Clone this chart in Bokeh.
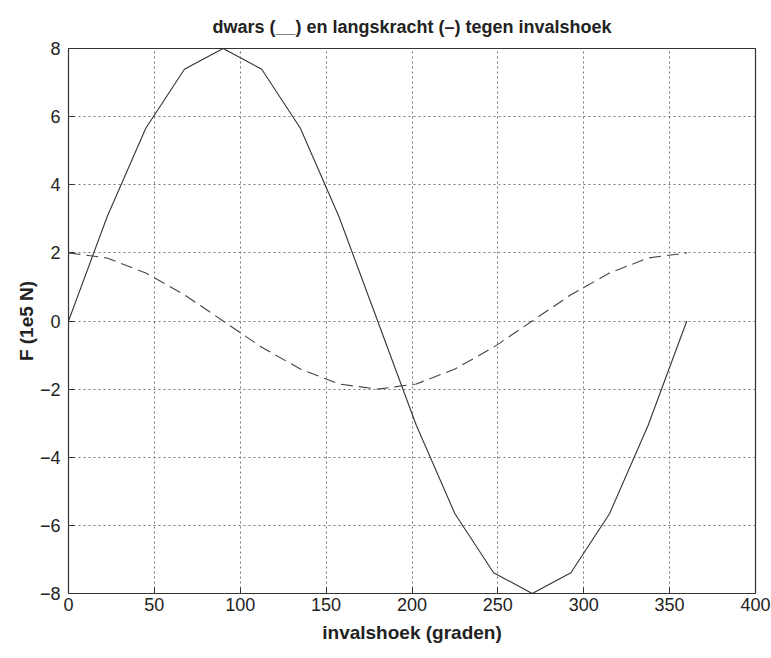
from bokeh.plotting import figure
from bokeh.models import FixedTicker, Range1d
from bokeh.embed import file_html
from bokeh.resources import INLINE

# invalshoek (graden)
angles = [0, 22.5, 45, 67.5, 90, 112.5, 135, 157.5, 180, 202.5, 225, 247.5,
          270, 292.5, 315, 337.5, 360]
# dwarskracht (solid)
dwars = [0, 3.06, 5.66, 7.39, 8.0, 7.39, 5.66, 3.06, 0, -3.06, -5.66, -7.39,
         -8.0, -7.39, -5.66, -3.06, 0]
# langskracht (dashed)
langs = [2.0, 1.85, 1.41, 0.77, 0, -0.77, -1.41, -1.85, -2.0, -1.85, -1.41,
         -0.77, 0, 0.77, 1.41, 1.85, 2.0]

x_ticks = [0, 50, 100, 150, 200, 250, 300, 350, 400]
y_ticks = [-8, -6, -4, -2, 0, 2, 4, 6, 8]

FONT = "Liberation Sans"

p = figure(width=771, height=658, output_backend="svg", toolbar_location=None,
           x_range=Range1d(0, 400), y_range=Range1d(-8, 8),
           min_border_left=68, min_border_right=16, min_border_top=48,
           min_border_bottom=65,
           title="dwars (__) en langskracht (\u2013) tegen invalshoek")

p.title.align = "center"
p.title.vertical_align = "top"
p.title.text_font = FONT
p.title.text_font_size = "18px"
p.title.text_font_style = "bold"
p.title.text_color = "#222222"
p.title.standoff = 20

p.outline_line_color = "#333333"
p.outline_line_width = 1.2
p.background_fill_color = "white"
p.border_fill_color = "white"

p.xaxis.ticker = FixedTicker(ticks=x_ticks)
p.yaxis.ticker = FixedTicker(ticks=y_ticks)
for ax in (p.xaxis, p.yaxis):
    ax.axis_line_color = None
    ax.major_tick_in = 6
    ax.major_tick_out = 0
    ax.minor_tick_line_color = None
    ax.major_tick_line_color = "#333333"
    ax.major_label_text_font = FONT
    ax.major_label_text_font_size = "18px"
    ax.major_label_text_color = "#222222"
    ax.axis_label_text_font = FONT
    ax.axis_label_text_font_size = "19px"
    ax.axis_label_text_font_style = "bold"
    ax.axis_label_text_color = "#222222"

p.xaxis.axis_label = "invalshoek (graden)"
p.yaxis.axis_label = "F (1e5 N)"
p.xaxis.major_label_standoff = 4
p.yaxis.major_label_standoff = 8
p.xaxis.axis_label_standoff = 8
p.yaxis.axis_label_standoff = 0

p.grid.grid_line_color = "#777777"
p.grid.grid_line_dash = "2 3"
p.grid.grid_line_width = 1

p.line(angles, dwars, line_color="#333333", line_width=1.1)
p.line(angles, langs, line_color="#444444", line_width=1.1, line_dash="12 6")

open("out.html", "w").write(file_html(p, INLINE))
